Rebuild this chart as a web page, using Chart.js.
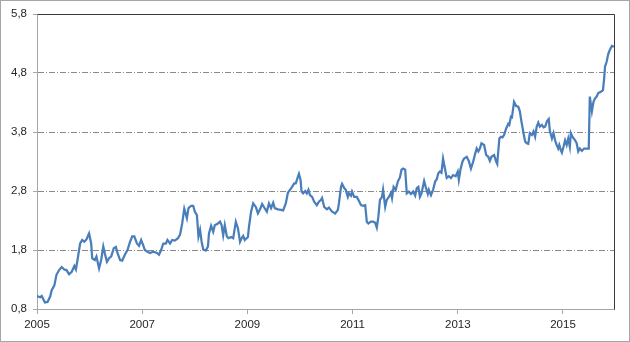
<!DOCTYPE html>
<html>
<head>
<meta charset="utf-8">
<script src="https://cdn.jsdelivr.net/npm/chart.js@4/dist/chart.umd.min.js"></script>
<style>
  html, body { margin: 0; padding: 0; background: #fff; }
</style>
</head>
<body>
<canvas id="myChart" width="630" height="342"></canvas>
<script>
// дата (доля года) и значение
const years = [
  2005.00, 2005.06, 2005.09, 2005.15, 2005.20, 2005.25, 2005.28, 2005.33, 2005.37, 2005.42,
  2005.47, 2005.52, 2005.56, 2005.61, 2005.66, 2005.71, 2005.74, 2005.77, 2005.82, 2005.86,
  2005.90, 2005.94, 2005.99, 2006.03, 2006.05, 2006.10, 2006.13, 2006.18, 2006.22, 2006.26,
  2006.29, 2006.33, 2006.37, 2006.41, 2006.46, 2006.50, 2006.53, 2006.58, 2006.62, 2006.67,
  2006.72, 2006.77, 2006.81, 2006.85, 2006.90, 2006.94, 2006.98, 2007.02, 2007.05, 2007.10,
  2007.15, 2007.21, 2007.28, 2007.32, 2007.36, 2007.40, 2007.45, 2007.48, 2007.53, 2007.57,
  2007.62, 2007.68, 2007.72, 2007.76, 2007.80, 2007.85, 2007.88, 2007.93, 2007.97, 2008.00,
  2008.04, 2008.07, 2008.10, 2008.13, 2008.16, 2008.21, 2008.25, 2008.27, 2008.31, 2008.35,
  2008.38, 2008.44, 2008.48, 2008.51, 2008.54, 2008.57, 2008.61, 2008.64, 2008.69, 2008.73,
  2008.78, 2008.82, 2008.86, 2008.89, 2008.92, 2008.95, 2009.01, 2009.03, 2009.07, 2009.11,
  2009.16, 2009.20, 2009.24, 2009.28, 2009.32, 2009.37, 2009.41, 2009.45, 2009.49, 2009.52,
  2009.58, 2009.64, 2009.68, 2009.73, 2009.77, 2009.81, 2009.85, 2009.89, 2009.92, 2009.96,
  2009.98, 2010.01, 2010.03, 2010.06, 2010.10, 2010.13, 2010.16, 2010.19, 2010.23, 2010.27,
  2010.32, 2010.36, 2010.40, 2010.42, 2010.46, 2010.51, 2010.55, 2010.61, 2010.67, 2010.72,
  2010.74, 2010.78, 2010.80, 2010.84, 2010.87, 2010.91, 2010.93, 2010.97, 2010.99, 2011.03,
  2011.08, 2011.11, 2011.16, 2011.20, 2011.24, 2011.27, 2011.30, 2011.35, 2011.39, 2011.43,
  2011.46, 2011.49, 2011.52, 2011.56, 2011.58, 2011.62, 2011.65, 2011.69, 2011.73, 2011.75,
  2011.78, 2011.82, 2011.86, 2011.90, 2011.93, 2011.96, 2012.00, 2012.03, 2012.07, 2012.11,
  2012.15, 2012.19, 2012.22, 2012.25, 2012.28, 2012.31, 2012.36, 2012.39, 2012.43, 2012.45,
  2012.49, 2012.53, 2012.57, 2012.60, 2012.63, 2012.66, 2012.69, 2012.72, 2012.76, 2012.79,
  2012.83, 2012.87, 2012.91, 2012.96, 2013.00, 2013.02, 2013.05, 2013.09, 2013.12, 2013.17,
  2013.21, 2013.25, 2013.29, 2013.33, 2013.36, 2013.39, 2013.42, 2013.45, 2013.50, 2013.54,
  2013.58, 2013.61, 2013.64, 2013.69, 2013.73, 2013.75, 2013.79, 2013.82, 2013.85, 2013.88,
  2013.92, 2013.96, 2013.98, 2014.01, 2014.03, 2014.07, 2014.11, 2014.15, 2014.18, 2014.21,
  2014.25, 2014.28, 2014.31, 2014.34, 2014.37, 2014.41, 2014.44, 2014.47, 2014.50, 2014.53,
  2014.56, 2014.60, 2014.63, 2014.66, 2014.70, 2014.73, 2014.75, 2014.79, 2014.82, 2014.85,
  2014.88, 2014.91, 2014.93, 2014.96, 2014.98, 2015.01, 2015.04, 2015.07, 2015.10, 2015.13,
  2015.15, 2015.18, 2015.23, 2015.26, 2015.29, 2015.32, 2015.36, 2015.40, 2015.45, 2015.49,
  2015.51, 2015.55, 2015.58, 2015.61, 2015.64, 2015.67, 2015.72, 2015.76, 2015.78, 2015.80,
  2015.83, 2015.86, 2015.89, 2015.93, 2015.96, 2015.97
]
const values = [
  1.02, 1.00, 1.02, 0.91, 0.92, 1.01, 1.12, 1.20, 1.38, 1.46,
  1.51, 1.47, 1.46, 1.39, 1.43, 1.53, 1.47, 1.63, 1.91, 1.97,
  1.94, 1.98, 2.08, 1.91, 1.66, 1.63, 1.69, 1.49, 1.63, 1.86,
  1.74, 1.60, 1.66, 1.69, 1.83, 1.85, 1.75, 1.63, 1.62, 1.72,
  1.80, 1.94, 2.03, 2.03, 1.91, 1.87, 1.97, 1.88, 1.80, 1.77,
  1.75, 1.77, 1.75, 1.72, 1.80, 1.91, 1.91, 1.97, 1.91, 1.97,
  1.96, 2.00, 2.06, 2.25, 2.50, 2.34, 2.51, 2.55, 2.55, 2.45,
  2.39, 2.03, 2.14, 1.94, 1.81, 1.79, 1.86, 2.08, 2.21, 2.11,
  2.22, 2.25, 2.28, 2.22, 2.05, 2.22, 2.03, 2.00, 2.02, 2.00,
  2.28, 2.17, 1.94, 2.00, 2.04, 1.97, 2.02, 2.19, 2.45, 2.59,
  2.53, 2.42, 2.49, 2.58, 2.52, 2.45, 2.59, 2.51, 2.60, 2.51,
  2.49, 2.48, 2.47, 2.59, 2.77, 2.82, 2.87, 2.93, 2.93, 3.04,
  3.09, 2.99, 2.79, 2.76, 2.80, 2.76, 2.82, 2.73, 2.70, 2.62,
  2.56, 2.62, 2.65, 2.68, 2.53, 2.49, 2.52, 2.45, 2.42, 2.48,
  2.59, 2.87, 2.92, 2.85, 2.82, 2.70, 2.76, 2.72, 2.79, 2.70,
  2.70, 2.65, 2.56, 2.55, 2.56, 2.28, 2.25, 2.28, 2.28, 2.26,
  2.18, 2.36, 2.65, 2.70, 2.82, 2.53, 2.65, 2.70, 2.77, 2.68,
  2.87, 2.82, 2.96, 3.03, 3.16, 3.18, 3.16, 2.76, 2.79, 2.75,
  2.79, 2.72, 2.85, 2.87, 2.70, 2.76, 2.97, 2.87, 2.75, 2.82,
  2.73, 2.82, 2.96, 3.00, 3.10, 3.13, 3.11, 3.35, 3.16, 3.02,
  3.05, 3.02, 3.07, 3.05, 3.13, 2.99, 3.16, 3.30, 3.35, 3.38,
  3.31, 3.18, 3.29, 3.43, 3.52, 3.47, 3.52, 3.61, 3.58, 3.41,
  3.38, 3.31, 3.38, 3.41, 3.30, 3.26, 3.69, 3.72, 3.71, 3.75,
  3.86, 3.94, 3.92, 4.06, 4.05, 4.31, 4.24, 4.23, 4.15, 3.98,
  3.78, 3.64, 3.61, 3.60, 3.78, 3.75, 3.81, 3.72, 3.89, 3.96,
  3.89, 3.92, 3.88, 3.89, 3.99, 4.02, 3.82, 3.69, 3.78, 3.66,
  3.58, 3.52, 3.58, 3.49, 3.45, 3.55, 3.66, 3.58, 3.69, 3.55,
  3.78, 3.72, 3.66, 3.61, 3.47, 3.52, 3.48, 3.52, 3.52, 3.52,
  4.40, 4.15, 4.31, 4.37, 4.40, 4.46, 4.48, 4.51, 4.68, 4.91,
  4.99, 5.12, 5.19, 5.26, 5.25, 5.24
]

// подписи осей
const xTicks = [2005, 2007, 2009, 2011, 2013, 2015]
const yTicks = [0.8, 1.8, 2.8, 3.8, 4.8, 5.8]

const fnt = { family: "'Liberation Sans', Arial, sans-serif", size: 11.5 }

// белый фон, рамка вокруг диаграммы и верх/право области построения
const framePlugin = {
  id: 'frame',
  beforeDraw(chart) {
    const ctx = chart.ctx
    ctx.save()
    ctx.fillStyle = '#fff'
    ctx.fillRect(0, 0, chart.width, chart.height)
    ctx.restore()
  },
  afterDraw(chart) {
    const ctx = chart.ctx
    const a = chart.chartArea
    ctx.save()
    ctx.strokeStyle = '#3a3a3a'
    ctx.lineWidth = 1
    ctx.beginPath()
    ctx.moveTo(Math.round(a.left) + 0.5, Math.round(a.top) + 0.5)
    ctx.lineTo(Math.round(a.right) + 0.5, Math.round(a.top) + 0.5)
    ctx.lineTo(Math.round(a.right) + 0.5, Math.round(a.bottom) + 0.5)
    ctx.stroke()
    ctx.strokeStyle = '#a6a6a6'
    ctx.strokeRect(0.5, 0.5, chart.width - 1, chart.height - 1)
    ctx.restore()
  }
}

let ctx = document.getElementById('myChart')
let myChart = new Chart(ctx, {
  type: 'line',
  data: {
    datasets: [{
      data: years.map((y, i) => ({ x: y, y: values[i] })),
      borderColor: '#4a7ebb',
      borderWidth: 2.25,
      pointRadius: 0,
      tension: 0,
      fill: false
    }]
  },
  options: {
    responsive: false,
    animation: false,
    devicePixelRatio: 1,
    layout: { padding: { top: 14, right: 16, left: 0, bottom: 0 } },
    plugins: { legend: { display: false }, tooltip: { enabled: false } },
    scales: {
      x: {
        type: 'linear',
        min: 2005,
        max: 2015.97,
        afterBuildTicks: axis => { axis.ticks = xTicks.map(v => ({ value: v })) },
        afterFit: scale => { scale.height = 33 },
        ticks: {
          color: '#262626',
          font: fnt,
          padding: 4,
          maxRotation: 0,
          autoSkip: false,
          callback: v => String(v)
        },
        grid: {
          drawOnChartArea: false,
          drawTicks: true,
          tickLength: 5,
          tickColor: '#a6a6a6'
        },
        border: { color: '#a6a6a6', width: 1 }
      },
      y: {
        min: 0.8,
        max: 5.8,
        afterBuildTicks: axis => { axis.ticks = yTicks.map(v => ({ value: v })) },
        afterFit: scale => { scale.width = 37 },
        ticks: {
          color: '#262626',
          font: fnt,
          padding: 6,
          callback: v => v.toFixed(1).replace('.', ',')
        },
        grid: {
          color: c => (c.tick && c.tick.value > 0.85 && c.tick.value < 5.75) ? '#8a8a8a' : 'rgba(0,0,0,0)',
          tickColor: '#a6a6a6',
          tickLength: 4,
          lineWidth: 1
        },
        border: { color: '#a6a6a6', width: 1, dash: [6, 2, 1, 2] }
      }
    }
  },
  plugins: [framePlugin]
})
</script>
</body>
</html>
